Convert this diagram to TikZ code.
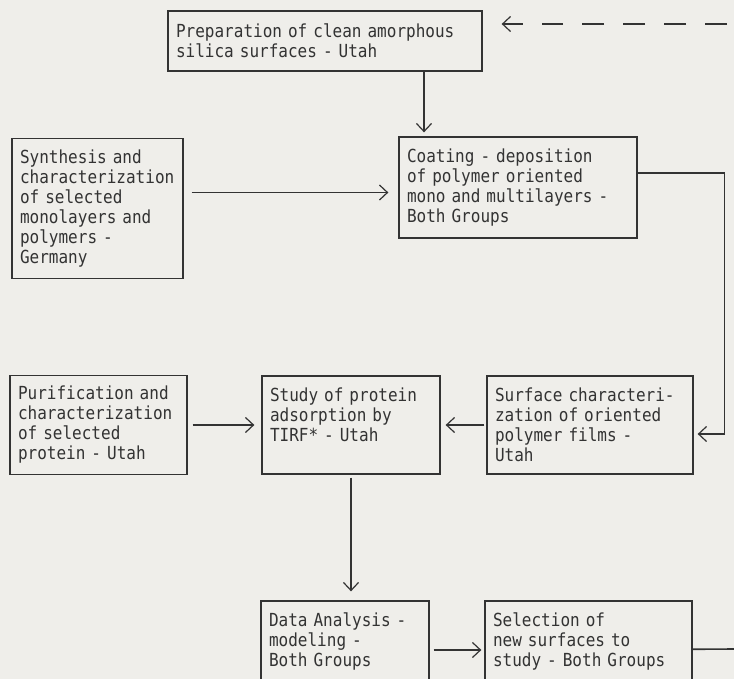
\documentclass[tikz,border=0pt]{standalone}
\usepackage{fontspec}
\usepackage{tikz}
\usetikzlibrary{positioning, arrows.meta}
\usepackage{xcolor}
\setmonofont[FakeStretch=0.89]{DejaVu Sans Mono}
\definecolor{ink}{HTML}{333333}
\definecolor{paper}{HTML}{EFEEEA}
\tikzstyle{stepbox} = [rectangle,
draw=ink,
line width=1.3pt,
text=ink,
align=left,
inner xsep=8pt,
inner ysep=0pt,
font=\ttfamily\fontsize{18pt}{20pt}\selectfont]
\tikzstyle{arrow} = [draw=ink, line width=1.2pt, -{Straight Barb[length=8pt,width=15pt]}]
\tikzstyle{connector} = [draw=ink, line width=1.6pt]
\tikzstyle{feedback} = [draw=ink, line width=1.8pt, dash pattern=on 22pt off 19pt]

\begin{document}
\begin{tikzpicture}[node distance=240pt]
        \fill [paper] (0,0) rectangle (734pt,-679pt);
        \useasboundingbox (0,0) rectangle (734pt,-679pt);

        \node (prep) [stepbox, text width=298pt, minimum height=60pt] at (325pt,-41pt) {Preparation of clean amorphous\\silica surfaces - Utah};
        \node (study) [stepbox, text width=162pt, minimum height=98pt] at (351pt,-425pt) {Study of protein\\adsorption by\\TIRF* - Utah\\~};
        \node (purif) [stepbox, text width=161pt, minimum height=99pt, left of=study, xshift=-12.5pt] {Purification and\\characterization\\of selected\\protein - Utah};
        \node (surf) [stepbox, text width=190pt, minimum height=98pt, right of=study, xshift=-1pt] {Surface characteri-\\zation of oriented\\polymer films -\\Utah};
        \node (coat) [stepbox, text width=222pt, minimum height=101pt, above of=surf, xshift=-72pt, yshift=-2.5pt] {Coating - deposition\\of polymer oriented\\mono and multilayers -\\Both Groups};
        \node (synth) [stepbox, text width=155pt, minimum height=140pt, above of=purif, xshift=-1pt, yshift=-23.5pt] {Synthesis and\\characterization\\of selected\\monolayers and\\polymers -\\Germany};
        \node (data) [stepbox, text width=152pt, minimum height=98pt, below of=study, xshift=-6pt, yshift=15pt] {Data Analysis -\\modeling -\\Both Groups\\~};
        \node (sel) [stepbox, text width=191pt, minimum height=98pt, right of=data, xshift=3.5pt] {Selection of\\new surfaces to\\study - Both Groups\\~};
        \coordinate (back) at (727pt,-24pt);
        \coordinate (exit) at (734pt,-649pt);

        \draw [arrow, shorten >=4pt] ([xshift=99pt]prep.south) -- ([xshift=-94pt]coat.north);
        \draw [arrow, shorten <=8pt, shorten >=10pt] ([yshift=16pt]synth.east) -- ([yshift=16pt]synth.east -| coat.west);
        \draw [arrow, shorten >=4pt] ([yshift=14.5pt]coat.east) -- ++(87pt,0) |- ([yshift=-9pt]surf.east);
        \draw [arrow, shorten <=5pt, shorten >=7pt] (purif) -- (study);
        \draw [arrow, shorten <=2pt, shorten >=5pt] (surf) -- (study);
        \draw [arrow, shorten <=3pt, shorten >=9pt] (study.south) -- (study.south |- data.north);
        \draw [arrow, shorten <=4pt, shorten >=3pt] (data) -- (sel);
        \draw [connector] (sel) -- (exit);
        \draw [feedback] (back) -- ([xshift=59pt,yshift=17pt]prep.east);
        \draw [arrow, shorten >=19pt] ([xshift=40pt,yshift=17pt]prep.east) -- ([yshift=17pt]prep.east);
    \end{tikzpicture}
\end{document}
